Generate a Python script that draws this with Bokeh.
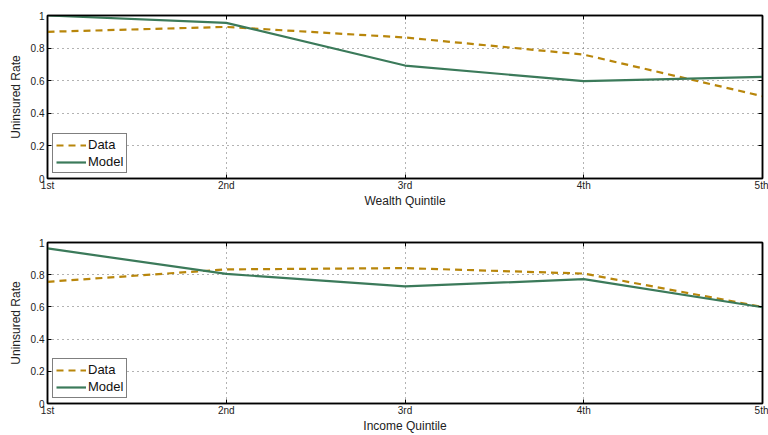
from bokeh.plotting import figure
from bokeh.layouts import column
from bokeh.models import LinearAxis, Range1d, FixedTicker, Legend, LegendItem
from bokeh.embed import file_html
from bokeh.resources import INLINE

# Quintile positions and labels
quintiles = [1, 2, 3, 4, 5]
quintile_labels = ["1st", "2nd", "3rd", "4th", "5th"]

# Uninsured rate by wealth quintile
wealth_data = [0.90, 0.93, 0.865, 0.76, 0.505]
wealth_model = [1.00, 0.955, 0.693, 0.597, 0.624]

# Uninsured rate by income quintile
income_data = [0.756, 0.833, 0.841, 0.807, 0.60]
income_model = [0.963, 0.805, 0.727, 0.772, 0.598]

y_ticks = [0, 0.2, 0.4, 0.6, 0.8, 1]
y_tick_labels = {0: "0", 0.2: "0.2", 0.4: "0.4", 0.6: "0.6", 0.8: "0.8", 1: "1"}

DATA_COLOR = "#b8860b"
MODEL_COLOR = "#3b7a5a"
FONT = "Liberation Sans"


def style_axis(ax, show_labels):
    ax.major_tick_in = 4
    ax.major_tick_out = 0
    ax.minor_tick_in = 0
    ax.minor_tick_out = 0
    ax.axis_line_color = "black"
    ax.axis_line_width = 1.5
    ax.major_tick_line_color = "black"
    ax.major_label_text_font = FONT
    ax.major_label_text_font_size = "10px"
    ax.major_label_text_color = "#222222"
    ax.axis_label_text_font = FONT
    ax.axis_label_text_font_size = "12px"
    ax.axis_label_text_font_style = "normal"
    ax.axis_label_text_color = "#222222"
    if not show_labels:
        ax.major_label_text_font_size = "0px"
        ax.major_label_text_alpha = 0


def make_panel(data, model, xlabel, height, top_border, bottom_border):
    p = figure(
        width=768,
        height=height,
        x_range=Range1d(1, 5),
        y_range=Range1d(0, 1),
        output_backend="svg",
        toolbar_location=None,
        min_border_left=47,
        min_border_right=6,
        min_border_top=top_border,
        min_border_bottom=bottom_border,
        x_axis_location=None,
        y_axis_location=None,
    )
    p.outline_line_color = "black"
    p.outline_line_width = 1.5

    xb = LinearAxis(ticker=FixedTicker(ticks=quintiles), axis_label=xlabel)
    xb.major_label_overrides = {q: l for q, l in zip(quintiles, quintile_labels)}
    xb.major_label_standoff = 1
    xb.axis_label_standoff = 0
    style_axis(xb, True)
    p.add_layout(xb, "below")

    yl = LinearAxis(ticker=FixedTicker(ticks=y_ticks), axis_label="Uninsured Rate")
    yl.major_label_overrides = y_tick_labels
    yl.major_label_standoff = 3
    yl.axis_label_standoff = 5
    style_axis(yl, True)
    p.add_layout(yl, "left")

    yr = LinearAxis(ticker=FixedTicker(ticks=y_ticks))
    style_axis(yr, False)
    p.add_layout(yr, "right")

    xt = LinearAxis(ticker=FixedTicker(ticks=quintiles))
    style_axis(xt, False)
    p.add_layout(xt, "above")

    p.xgrid.ticker = FixedTicker(ticks=quintiles)
    p.ygrid.ticker = FixedTicker(ticks=y_ticks)
    for g in (p.xgrid, p.ygrid):
        g.grid_line_color = "#666666"
        g.grid_line_dash = "1 4"
        g.grid_line_width = 1

    r_data = p.line(quintiles, data, line_color=DATA_COLOR, line_width=2.2,
                    line_dash="7 5")
    r_model = p.line(quintiles, model, line_color=MODEL_COLOR, line_width=2.2)

    legend = Legend(
        items=[LegendItem(label="Data", renderers=[r_data]),
               LegendItem(label="Model", renderers=[r_model])],
        location="bottom_left",
        border_line_color="black",
        border_line_width=1.5,
        background_fill_color="white",
        background_fill_alpha=1,
        label_text_font=FONT,
        label_text_font_size="13px",
        label_text_color="#111111",
        label_standoff=2,
        label_height=14,
        glyph_width=30,
        glyph_height=14,
        spacing=2,
        padding=3,
        margin=5,
    )
    p.add_layout(legend, "center")
    return p


top = make_panel(wealth_data, wealth_model, "Wealth Quintile", 210, 15, 32)
bottom = make_panel(income_data, income_model, "Income Quintile", 225, 32, 29)

layout = column(top, bottom, spacing=0)
open("out.html", "w").write(file_html(layout, INLINE))
